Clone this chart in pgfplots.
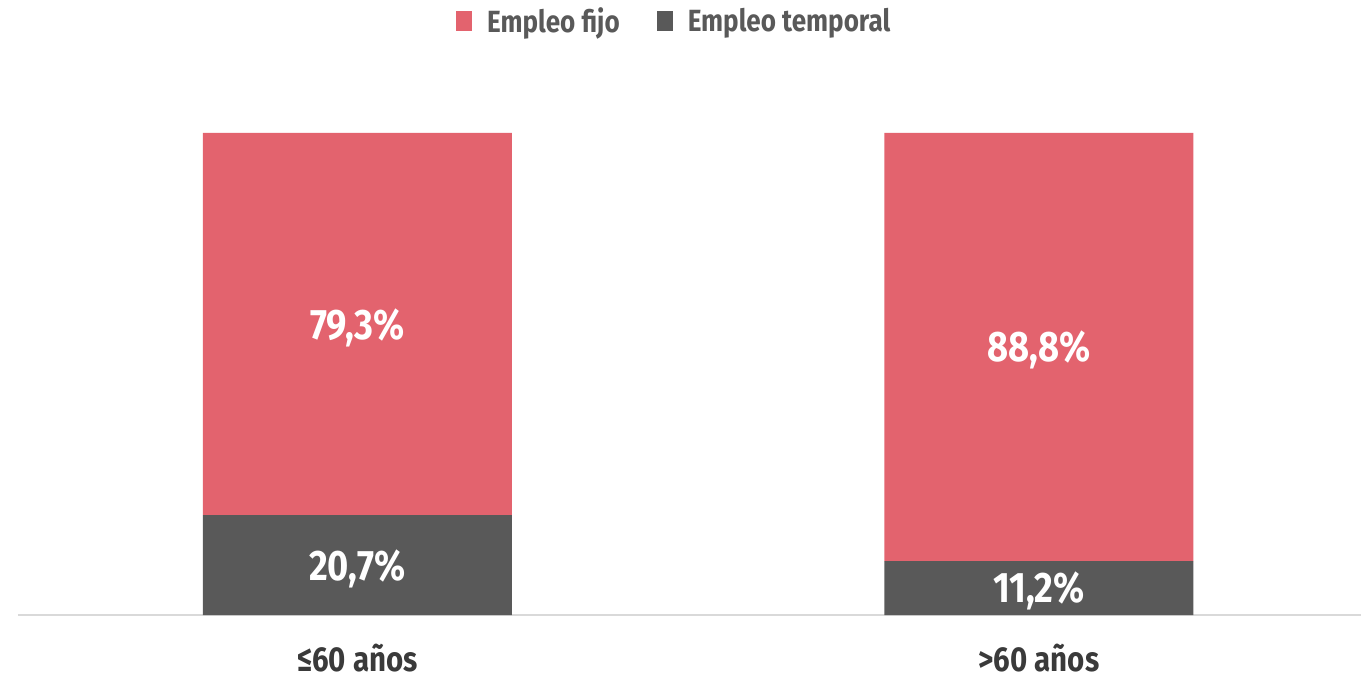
\documentclass[border=0pt]{standalone}
\usepackage{fontspec}
\setmainfont{Fira Sans}[FakeStretch=0.85]
\usepackage{pgfplots}
\pgfplotsset{compat=1.18}

\definecolor{fijo}{HTML}{E3636E}
\definecolor{temporal}{HTML}{595959}
\definecolor{ejes}{HTML}{D9D9D9}
\definecolor{etiq}{HTML}{3A3A3A}

\begin{document}
\begin{tikzpicture}
\begin{axis}[
    name=a,
    scale only axis,
    width=1007.25pt, height=361.5pt,
    ybar stacked,
    bar width=231.75pt,
    xmin=-0.498, xmax=1.4725,
    ymin=0, ymax=100,
    axis x line=bottom,
    axis y line=none,
    x axis line style={ejes, line width=2.2pt, -},
    xtick={0,1},
    xticklabels={≤60 años, >60 años},
    major tick length=0pt,
    xticklabel style={font=\fontsize{26}{28}\selectfont\bfseries, text=etiq, anchor=base, inner sep=0pt, yshift=-42.5pt},
    /pgf/number format/assume math mode=true,
    nodes near coords={\pgfmathprintnumber[fixed,precision=1,fixed zerofill,use comma]{\pgfplotspointmeta}\%},
    every node near coord/.append style={font=\fontsize{32}{35}\selectfont\bfseries, text=white, anchor=center, yshift=-2.5pt},
    legend columns=-1,
    reverse legend,
    legend style={at={(0.489,1.232)}, anchor=center, draw=none, fill=none,
        font=\fontsize{23}{26}\selectfont\bfseries, text=temporal,
        /tikz/every odd column/.append style={column sep=9pt},
        /tikz/every even column/.append style={column sep=26pt}},
    legend image code/.code={\fill[#1] (0pt,-7.5pt) rectangle (12pt,7.5pt);},
    clip=false,
]
\addplot[fill=temporal, draw=none] coordinates {(0,20.7) (1,11.2)};
\addplot[fill=fijo, draw=none] coordinates {(0,79.3) (1,88.8)};
\legend{Empleo temporal, Empleo fijo}
\end{axis}
\pgfresetboundingbox
\useasboundingbox ([xshift=-13.5pt,yshift=-46pt]a.south west) rectangle ([yshift=99.75pt]a.north east);
\end{tikzpicture}
\end{document}
